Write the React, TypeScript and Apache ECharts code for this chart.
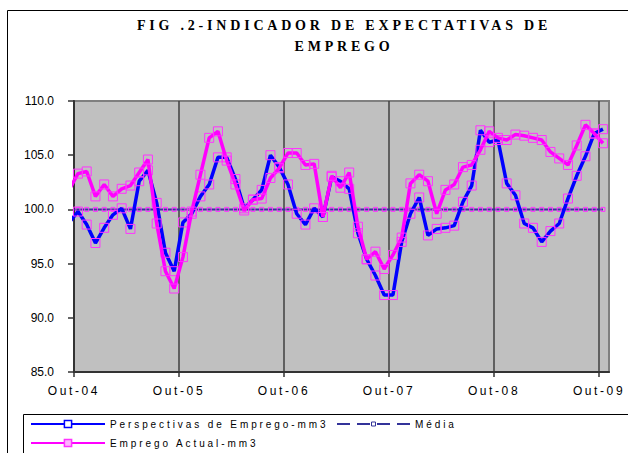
import React, { useEffect, useRef } from 'react';
import * as echarts from 'echarts';

// First month of the series (Sep-2004); the axis starts at Oct-2004.
const START_YEAR = 2004;
const START_MONTH = 9;
const AXIS_START_YEAR = 2004;
const AXIS_START_MONTH = 10;

const xTickLabels = ['Out-04', 'Out-05', 'Out-06', 'Out-07', 'Out-08', 'Out-09'];
const yMin = 85;
const yMax = 110;
const yStep = 5;

const titleLines = ['FIG .2-INDICADOR DE EXPECTATIVAS DE', 'EMPREGO'];

const S_PERSP = 'Perspectivas de Emprego-mm3';
const S_ACTUAL = 'Emprego Actual-mm3';
const S_MEDIA = 'Média';

const perspectivas = [
  98.8, 99.8, 98.6, 96.9, 98.3, 99.5, 100.1, 98.2, 102.6, 103.6, 100.6, 96.0, 94.3,
  98.8, 99.6, 101.2, 102.3, 104.8, 104.8, 102.8, 100.1, 100.9, 101.8, 105.0, 103.9,
  102.3, 99.6, 98.6, 100.1, 99.3, 103.0, 102.6, 101.9, 97.8, 95.4, 93.9, 92.1, 92.1,
  97.0, 99.6, 101.1, 97.6, 98.2, 98.3, 98.5, 100.7, 102.2, 107.3, 106.2, 106.4,
  102.4, 101.3, 98.7, 98.3, 97.0, 98.0, 98.7, 101.0, 103.1, 104.9, 107.0, 107.4,
];

const empregoActual = [
  101.8, 103.3, 103.5, 101.2, 102.3, 101.2, 101.9, 102.2, 103.4, 104.6, 98.7, 94.3, 92.7,
  95.6, 99.8, 103.2, 106.6, 107.2, 104.5, 102.3, 99.9, 100.9, 101.0, 102.9, 103.8,
  105.2, 105.2, 104.1, 104.2, 99.3, 103.1, 102.0, 103.4, 98.4, 95.4, 96.1, 94.5, 95.8,
  97.4, 102.4, 103.2, 102.6, 99.6, 101.8, 102.3, 103.9, 104.1, 105.5, 107.2, 106.6,
  106.4, 106.9, 106.8, 106.6, 106.4, 105.3, 104.7, 104.1, 105.9, 107.8, 107.0, 106.1,
];

const mediaValue = 100;

// Each monthly observation sits a little inside its month on the date axis.
const IN_MONTH = 0.45;
const firstOffset =
  (START_YEAR - AXIS_START_YEAR) * 12 + (START_MONTH - AXIS_START_MONTH);
const monthPos = (i: number) => firstOffset + i + IN_MONTH;

const toPoints = (vals: number[]) =>
  vals.map((v, i) => {
    const x = monthPos(i);
    return x < 0 ? { value: [x, v], symbol: 'none' } : { value: [x, v] };
  });

const mediaValues = perspectivas.map(() => mediaValue);

export default function App() {
  const ref = useRef<HTMLDivElement>(null);

  useEffect(() => {
    if (!ref.current) return;
    const chart = echarts.init(ref.current, undefined, { renderer: 'svg' });
    const nMonths = perspectivas.length + firstOffset;
    const xMax = 61.14;
    const legendText = {
      fontSize: 10,
      fontFamily: 'lglsp, "Liberation Sans", Arial, sans-serif',
      color: '#000',
    };
    const option: any = {
      animation: false,
      backgroundColor: '#ffffff',
      graphic: [
        {
          type: 'rect',
          silent: true,
          z: -10,
          shape: { x: 7.5, y: 10.5, width: 720, height: 520 },
          style: { fill: 'none', stroke: '#000', lineWidth: 1 },
        },
        {
          type: 'rect',
          silent: true,
          shape: { x: 23.5, y: 414.5, width: 700, height: 100 },
          style: { fill: 'none', stroke: '#000', lineWidth: 1 },
        },
        ...titleLines.map((t, i) => ({
          type: 'text',
          x: 344,
          y: 25 + i * 21,
          silent: true,
          style: {
            text: t,
            font: 'bold 14px ttlsp, "Liberation Serif", "Times New Roman", serif',
            fill: '#000',
            textAlign: 'center',
            textVerticalAlign: 'middle',
          },
        })),
      ],
      grid: {
        left: 74,
        top: 101,
        width: 535,
        height: 271,
        show: true,
        backgroundColor: '#C0C0C0',
        borderColor: '#808080',
        borderWidth: 2,
      },
      xAxis: {
        type: 'value',
        min: 0,
        max: xMax,
        interval: 12,
        axisLine: { show: true, onZero: false, lineStyle: { color: '#333', width: 2 } },
        axisTick: { show: true, length: 5, lineStyle: { color: '#333', width: 1.5 } },
        axisLabel: {
          formatter: (v: number) =>
            Math.abs(v % 12) < 1e-6 && v / 12 < xTickLabels.length && v <= nMonths
              ? xTickLabels[Math.round(v / 12)]
              : '',
          fontSize: 12,
          fontFamily: 'xlsp, "Liberation Sans", Arial, sans-serif',
          color: '#000',
          margin: 13,
          showMaxLabel: false,
        },
        splitLine: {
          show: true,
          showMaxLine: false,
          lineStyle: { color: '#404040', width: 1.5 },
        },
      },
      yAxis: {
        type: 'value',
        min: yMin,
        max: yMax,
        interval: yStep,
        axisLine: { show: true, lineStyle: { color: '#333', width: 2 } },
        axisTick: { show: true, length: 6, lineStyle: { color: '#333', width: 1.5 } },
        axisLabel: {
          formatter: (v: number) => v.toFixed(1),
          fontSize: 12,
          fontFamily: '"Liberation Sans", Arial, sans-serif',
          color: '#000',
          margin: 20,
        },
        splitLine: { show: false },
      },
      legend: [
        {
          data: [
            {
              name: S_PERSP,
              itemStyle: { color: '#ffffff', borderColor: '#0000FF', borderWidth: 1.5 },
            },
          ],
          left: 30,
          top: 419,
          padding: 0,
          itemWidth: 74,
          itemHeight: 9,
          selectedMode: false,
          textStyle: legendText,
        },
        {
          data: [
            {
              name: S_MEDIA,
              itemStyle: { color: '#ffffff', borderColor: '#333399', borderWidth: 1 },
              lineStyle: { type: [13, 7], width: 2, color: '#333399' },
            },
          ],
          left: 336,
          top: 419,
          padding: 0,
          itemWidth: 73,
          itemHeight: 5,
          selectedMode: false,
          textStyle: legendText,
        },
        {
          data: [
            {
              name: S_ACTUAL,
              itemStyle: { color: '#FFB3FF', borderColor: '#FF33FF', borderWidth: 1.5 },
            },
          ],
          left: 30,
          top: 438,
          padding: 0,
          itemWidth: 74,
          itemHeight: 9,
          selectedMode: false,
          textStyle: legendText,
        },
      ],
      series: [
        {
          name: S_MEDIA,
          type: 'line',
          data: toPoints(mediaValues),
          clip: false,
          z: 1,
          symbol: 'rect',
          symbolSize: 4,
          lineStyle: { color: '#333399', width: 2 },
          itemStyle: { color: 'rgba(0,0,0,0)', borderColor: '#FF33FF', borderWidth: 1 },
          emphasis: { disabled: true },
        },
        {
          name: S_PERSP,
          type: 'line',
          data: toPoints(perspectivas),
          clip: false,
          z: 2,
          symbol: 'rect',
          symbolSize: 9,
          lineStyle: { color: '#0000FF', width: 3.5 },
          itemStyle: { color: 'rgba(0,0,0,0)', borderColor: '#FF33FF', borderWidth: 1 },
          emphasis: { disabled: true },
        },
        {
          name: S_ACTUAL,
          type: 'line',
          data: toPoints(empregoActual),
          clip: false,
          z: 3,
          symbol: 'rect',
          symbolSize: 9,
          lineStyle: { color: '#FF00FF', width: 3.5 },
          itemStyle: { color: 'rgba(0,0,0,0)', borderColor: '#FF33FF', borderWidth: 1 },
          emphasis: { disabled: true },
        },
      ],
    };
    chart.setOption(option);
    return () => chart.dispose();
  }, []);

  return (
    <>
      <style>{`
        text[style*="ttlsp"] { letter-spacing: 3.8px; }
        text[style*="xlsp"] { letter-spacing: 2.6px; }
        text[style*="lglsp"] { letter-spacing: 2.9px; }
      `}</style>
      <div
        ref={ref}
        style={{ position: 'fixed', left: 0, top: 0, width: 628, height: 453 }}
      />
    </>
  );
}
